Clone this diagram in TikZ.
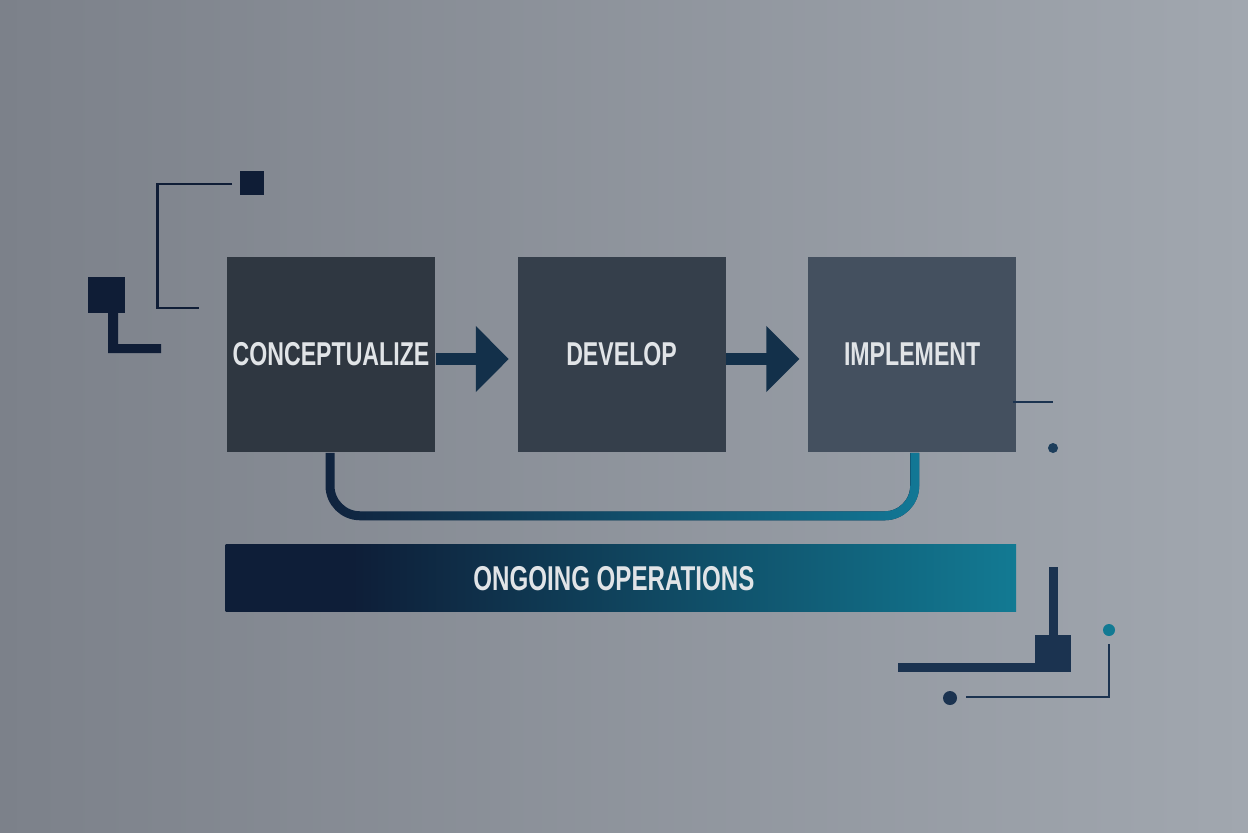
\documentclass[tikz,border=0pt]{standalone}
\usepackage{fontspec}
\newfontfamily\boxfont[FakeStretch=0.7]{Liberation Sans}
\usetikzlibrary{arrows.meta, positioning, fadings}
\definecolor{bgleft}{HTML}{7C818A}
\definecolor{bgright}{HTML}{A1A7AF}
\definecolor{conceptfill}{HTML}{2F3741}
\definecolor{developfill}{HTML}{353F4B}
\definecolor{implementfill}{HTML}{44505F}
\definecolor{labelgray}{HTML}{E1E4E7}
\definecolor{arrownavy}{HTML}{13304A}
\definecolor{loopnavy}{HTML}{10233E}
\definecolor{loopteal}{HTML}{137896}
\definecolor{opsnavy}{HTML}{0E1E38}
\definecolor{opsteal}{HTML}{127A93}
\definecolor{decor}{HTML}{0F1D36}
\definecolor{decorb}{HTML}{1B3350}
\definecolor{dotblue}{HTML}{1D3E5C}
\pgfdeclarehorizontalshading{opsshade}{100bp}{color(0bp)=(opsnavy); color(33bp)=(opsnavy); color(75bp)=(opsteal); color(100bp)=(opsteal)}

\begin{document}
\begin{tikzpicture}[x=0.01cm, y=-0.01cm, node distance=0.81cm,
    stage/.style={rectangle, inner xsep=1pt, inner ysep=2pt, minimum width=2.08cm, minimum height=1.95cm, text=labelgray, font=\boxfont\bfseries\fontsize{9.4}{11}\selectfont},
    flow/.style={line width=0.12cm, draw=arrownavy, -{Triangle[length=0.33cm, width=0.64cm]}, shorten >=0.08cm},
    loopline/.style={line width=0.09cm, rounded corners=0.3cm},
    thinline/.style={line width=0.025cm}]
\shade [left color=bgleft, right color=bgright] (0,0) rectangle (1248,832);
\useasboundingbox (0,0) rectangle (1248,832);

\node (concept) [stage, fill=conceptfill] at (331,354.5) {CONCEPTUALIZE};
\node (develop) [stage, fill=developfill, right=of concept] {DEVELOP};
\node (implement) [stage, fill=implementfill, right=of develop] {IMPLEMENT};
\node (ongoing) [anchor=north west, minimum width=7.9cm, minimum height=0.67cm, shade, shading=opsshade, text=labelgray, font=\boxfont\bfseries\fontsize{9.8}{11}\selectfont] at (225,544) {ONGOING OPERATIONS\kern0.14cm};

\draw [flow] ([yshift=-0.045cm]concept.east) -- ([yshift=-0.045cm]develop.west);
\draw [flow] ([yshift=-0.045cm]develop.east) -- ([yshift=-0.045cm]implement.west);

\draw [loopline, draw=loopnavy] ([xshift=-0.01cm]concept.south) -- ++(0,63) -| ([xshift=0.025cm]implement.south);
\draw [loopline, draw=loopteal, path fading=west] ([xshift=-0.01cm]concept.south) -- ++(0,63) -| ([xshift=0.025cm]implement.south);

% top left marks
\fill [decor] (240,171) rectangle (264,195);
\draw [thinline, decor] (232,184) -- (157.5,184) -- (157.5,308) -- (199,308);
\fill [decor] (88,277) rectangle (125,313);
\fill [decor] (108,313) rectangle (118,353) (108,344) rectangle (161,353);

% bottom right marks
\fill [decorb] (1049,567) rectangle (1058,635);
\fill [decorb] (1035,635) rectangle (1071,672);
\fill [decorb] (898,663) rectangle (1035,672);
\fill [opsteal] (1109,630) circle (0.06cm);
\draw [thinline, decorb] (1109,644) -- (1109,697) -- (966,697);
\fill [decorb] (950,698) circle (0.07cm);

\draw [line width=0.02cm, decorb] (1013,402) -- (1053,402);
\fill [dotblue] (1053,448) circle (0.05cm);
\end{tikzpicture}
\end{document}
